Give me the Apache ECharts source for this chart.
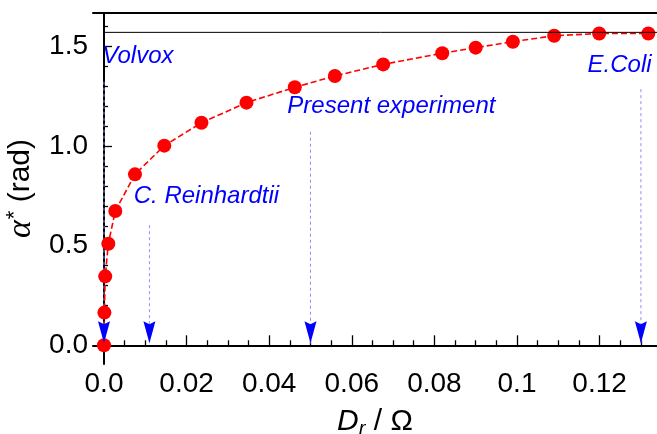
<!DOCTYPE html>
<html>
<head>
<meta charset="utf-8">
<script src="https://cdn.jsdelivr.net/npm/echarts@6/dist/echarts.min.js"></script>
<style>
html,body{margin:0;padding:0;background:#fff;}
#c{width:657px;height:434px;}
</style>
</head>
<body>
<div id="c"></div>
<script>
// ---- data ----
var dr    = [0, 0.0001, 0.0003, 0.00105, 0.00274, 0.0075, 0.0146, 0.0236, 0.0345, 0.0462, 0.0559, 0.0676, 0.0819, 0.0900, 0.0990, 0.1090, 0.1199, 0.1318];
var alpha = [0, 0.164, 0.346, 0.510, 0.674, 0.858, 1.002, 1.117, 1.218, 1.295, 1.352, 1.410, 1.466, 1.494, 1.524, 1.554, 1.565, 1.565];
var limitAlpha = Math.PI / 2;

var organisms = ['Volvox', 'C. Reinhardtii', 'Present experiment', 'E.Coli'];
var arrowX    = [0, 0.011, 0.05, 0.13];
var arrowTop  = [1.323, 0.603, 1.072, 1.286];
var arrowTip  = 0.01;
var labelX    = [-0.0004, 0.0072, 0.0444, 0.1171];
var labelY    = [1.452, 0.750, 1.202, 1.404];

var xMajor = [0, 0.02, 0.04, 0.06, 0.08, 0.1, 0.12];
var xMajorLabels = ['0.0', '0.02', '0.04', '0.06', '0.08', '0.1', '0.12'];
var xMinor = [0.005, 0.01, 0.015, 0.025, 0.03, 0.035, 0.045, 0.05, 0.055, 0.065, 0.07, 0.075, 0.085, 0.09, 0.095, 0.105, 0.11, 0.115, 0.125, 0.13];
var yMajor = [0, 0.5, 1.0, 1.5];
var yMajorLabels = ['0.0', '0.5', '1.0', '1.5'];
var yMinor = [0.1, 0.2, 0.3, 0.4, 0.6, 0.7, 0.8, 0.9, 1.1, 1.2, 1.3, 1.4, 1.6];

var xMin = -0.00266, xMax = 0.1339;
var yMin = -0.094, yMax = 1.668;

// ---- build ----
var chart = echarts.init(document.getElementById('c'), null, {renderer: 'canvas'});
var FONT = 'Liberation Sans';

function fmt(vals, labels) {
  return function (v) {
    for (var i = 0; i < vals.length; i++) if (Math.abs(vals[i] - v) < 1e-9) return labels[i];
    return '';
  };
}

var series = [];
// dashed guide lines
for (var i = 0; i < organisms.length; i++) {
  series.push({
    type: 'line', xAxisIndex: 0, yAxisIndex: 0, z: 2,
    data: [[arrowX[i], arrowTop[i]], [arrowX[i], arrowTip]],
    symbol: 'none', silent: true,
    lineStyle: {color: '#8f8fff', width: 1, type: [3, 3]}
  });
}
// curve
series.push({
  type: 'line', xAxisIndex: 0, yAxisIndex: 0, z: 3,
  data: dr.map(function (x, i) { return [x, alpha[i]]; }),
  symbol: 'circle', symbolSize: 14, showSymbol: true,
  itemStyle: {color: '#ff0000', opacity: 1},
  lineStyle: {color: '#ff0000', width: 1.6, type: [6, 3]}
});
// limit line pi/2
series.push({
  type: 'line', xAxisIndex: 0, yAxisIndex: 0, z: 4,
  data: [[0, limitAlpha], [xMax, limitAlpha]],
  symbol: 'none', lineStyle: {color: '#000', width: 1}
});
// arrow heads
series.push({
  type: 'scatter', xAxisIndex: 0, yAxisIndex: 0, z: 5,
  data: arrowX.map(function (x) { return [x, arrowTip]; }),
  symbol: 'path://M0,0 L6,3 L12,0 L6,22 Z',
  symbolSize: [12, 22], symbolOffset: [0, -11],
  itemStyle: {color: '#0000ff', opacity: 1}
});
// annotations
series.push({
  type: 'scatter', xAxisIndex: 0, yAxisIndex: 0, z: 6,
  data: organisms.map(function (n, i) { return {name: n, value: [labelX[i], labelY[i]]}; }),
  symbolSize: 0,
  itemStyle: {opacity: 1},
  label: {
    show: true, position: 'right', distance: 0, opacity: 1,
    formatter: function (p) { return p.name; },
    color: '#0000ff', fontFamily: FONT, fontStyle: 'italic', fontSize: 24
  }
});

var option = {
  animation: false,
  backgroundColor: '#fff',
  grid: {left: 93, right: 0, top: 13, bottom: 70, containLabel: false, outerBoundsMode: 'none'},
  xAxis: [
    {
      type: 'value', position: 'bottom', min: xMin, max: xMax,
      axisLine: {show: true, lineStyle: {color: '#000', width: 2}},
      axisTick: {show: true, inside: true, length: 10, customValues: xMajor, lineStyle: {color: '#000', width: 1.3}},
      axisLabel: {show: true, customValues: xMajor, formatter: fmt(xMajor, xMajorLabels), margin: 6,
                  color: '#000', fontFamily: FONT, fontSize: 28},
      splitLine: {show: false},
      name: '{d|D}{r|r}{t| / Ω}', nameLocation: 'middle', nameGap: 41,
      nameTextStyle: {
        color: '#000', fontFamily: FONT, fontSize: 30,
        rich: {
          d: {fontFamily: FONT, fontStyle: 'italic', fontSize: 30, color: '#000'},
          r: {fontFamily: FONT, fontStyle: 'italic', fontSize: 20, color: '#000', padding: [14, 0, 0, 0]},
          t: {fontFamily: FONT, fontSize: 30, color: '#000'}
        }
      }
    },
    {
      type: 'value', position: 'bottom', min: xMin, max: xMax,
      axisLine: {show: false},
      axisTick: {show: true, inside: true, length: 5, customValues: xMinor, lineStyle: {color: '#000', width: 1.3}},
      axisLabel: {show: false}, splitLine: {show: false}
    },
    {
      type: 'value', position: 'top', min: xMin, max: xMax,
      axisLine: {show: true, lineStyle: {color: '#000', width: 2}},
      axisTick: {show: false}, axisLabel: {show: false}, splitLine: {show: false}
    }
  ],
  yAxis: [
    {
      type: 'value', position: 'left', min: yMin, max: yMax,
      axisLine: {show: true, lineStyle: {color: '#000', width: 2}},
      axisTick: {show: true, inside: true, length: 8, customValues: yMajor, lineStyle: {color: '#000', width: 1.3}},
      axisLabel: {show: true, customValues: yMajor, formatter: fmt(yMajor, yMajorLabels), margin: 5,
                  color: '#000', fontFamily: FONT, fontSize: 28},
      splitLine: {show: false},
      name: '{g|α}{s|*}{t| (rad)}', nameLocation: 'middle', nameRotate: 90, nameGap: 34,
      nameTextStyle: {
        color: '#000', fontFamily: FONT, fontSize: 30,
        rich: {
          g: {fontFamily: 'Liberation Serif', fontStyle: 'italic', fontSize: 34, color: '#000'},
          s: {fontFamily: FONT, fontSize: 22, color: '#000', padding: [0, 0, 12, 1]},
          t: {fontFamily: FONT, fontSize: 30, color: '#000'}
        }
      }
    },
    {
      type: 'value', position: 'left', min: yMin, max: yMax,
      axisLine: {show: false},
      axisTick: {show: true, inside: true, length: 4, customValues: yMinor, lineStyle: {color: '#000', width: 1.3}},
      axisLabel: {show: false}, splitLine: {show: false}
    }
  ],
  series: series
};
chart.setOption(option);
</script>
</body>
</html>
